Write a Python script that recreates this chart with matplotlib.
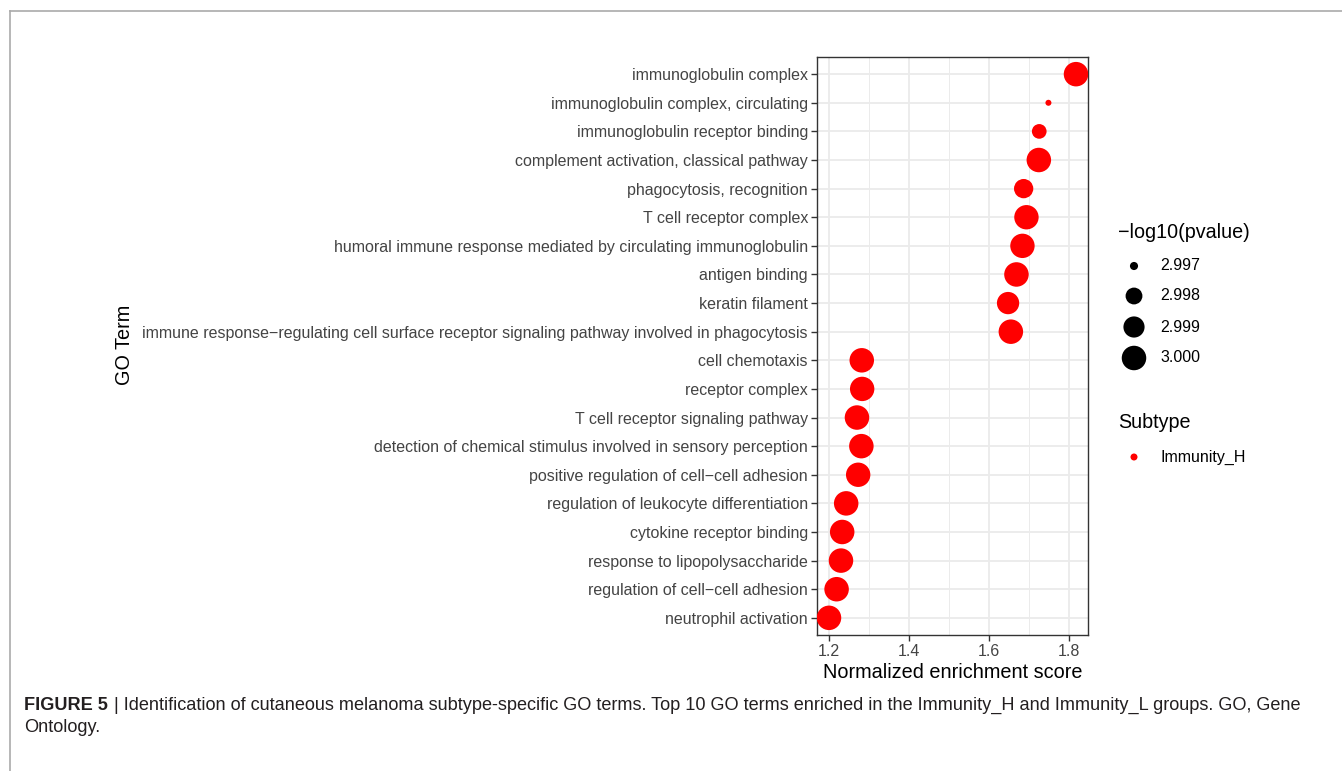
import matplotlib
matplotlib.use("Agg")
import matplotlib.pyplot as plt
import numpy as np

plt.rcParams['font.family'] = ['Liberation Sans', 'DejaVu Sans']

# GO terms, top to bottom
terms = [
    "immunoglobulin complex",
    "immunoglobulin complex, circulating",
    "immunoglobulin receptor binding",
    "complement activation, classical pathway",
    "phagocytosis, recognition",
    "T cell receptor complex",
    "humoral immune response mediated by circulating immunoglobulin",
    "antigen binding",
    "keratin filament",
    "immune response\u2212regulating cell surface receptor signaling pathway involved in phagocytosis",
    "cell chemotaxis",
    "receptor complex",
    "T cell receptor signaling pathway",
    "detection of chemical stimulus involved in sensory perception",
    "positive regulation of cell\u2212cell adhesion",
    "regulation of leukocyte differentiation",
    "cytokine receptor binding",
    "response to lipopolysaccharide",
    "regulation of cell\u2212cell adhesion",
    "neutrophil activation",
]
nes = [1.818, 1.749, 1.726, 1.725, 1.687, 1.694, 1.684, 1.669, 1.648, 1.655,
       1.282, 1.283, 1.270, 1.281, 1.273, 1.243, 1.233, 1.230, 1.219, 1.200]
neglogp = [3.0000, 2.99696, 2.99763, 3.0000, 2.99853, 2.99996, 2.99996, 3.0000, 2.99932, 3.0000,
           3.0000, 2.99996, 3.0000, 3.0000, 2.99996, 3.0000, 3.0000, 3.0000, 3.0000, 3.0000]
size_breaks = [2.997, 2.998, 2.999, 3.000]
subtype = "Immunity_H"
x_ticks = [1.2, 1.4, 1.6, 1.8]

W, H, DPI = 1342, 771, 100
fig = plt.figure(figsize=(W / DPI, H / DPI), dpi=DPI)

# size scale: diameter grows with sqrt of rescaled value
vmin, vmax = min(neglogp), max(neglogp)
d_lo, d_hi = 6.0, 24.5  # pixels


def diam_px(v):
    t = np.clip((np.asarray(v) - vmin) / (vmax - vmin), 0, 1)
    return d_lo + (d_hi - d_lo) * np.sqrt(t)


def area_pt2(v):
    return (diam_px(v) * 72.0 / DPI) ** 2


ax = fig.add_axes([817 / W, 1 - 635 / H, (1088 - 817) / W, (635 - 57) / H])
n = len(terms)
ypos = np.arange(n)[::-1]
ax.scatter(nes, ypos, s=area_pt2(neglogp), color="#FF0000", edgecolors="none", zorder=3)

ax.set_xlim(1.17, 1.848)
ax.set_ylim(-0.6, n - 1 + 0.6)
ax.set_xticks(x_ticks)
ax.set_xticklabels([f"{t:.1f}" for t in x_ticks])
ax.set_xticks([1.3, 1.5, 1.7], minor=True)
ax.set_yticks(ypos)
ax.set_yticklabels(terms)
ax.grid(True, which="major", color="#EBEBEB", linewidth=1.3, zorder=0)
ax.grid(True, which="minor", axis="x", color="#EBEBEB", linewidth=0.7, zorder=0)
ax.set_axisbelow(True)
for sp in ax.spines.values():
    sp.set_color("#333333")
    sp.set_linewidth(1.0)
ax.tick_params(axis="both", which="major", length=4, width=1.0, color="#333333",
               labelcolor="#444444", labelsize=11.5, pad=2.5)
ax.tick_params(axis="x", which="minor", length=0)
ax.set_xlabel("Normalized enrichment score", fontsize=14.3, color="black", labelpad=3)

fig.text(125 / W, 1 - 345 / H, "GO Term", rotation=90, ha="center", va="center",
         fontsize=14.3, color="black")

# legends, drawn in pixel coordinates
lg = fig.add_axes([0, 0, 1, 1], facecolor="none")
lg.set_xlim(0, W)
lg.set_ylim(H, 0)
lg.axis("off")
lg.text(1118, 232, "\u2212log10(pvalue)", ha="left", va="center", fontsize=14.2, color="black")
leg_y = [266, 296, 327, 358]
lg.scatter([1134] * len(size_breaks), leg_y, s=area_pt2(size_breaks),
           color="black", edgecolors="none")
for yy, b in zip(leg_y, size_breaks):
    lg.text(1160, yy, f"{b:.3f}", ha="left", va="center", fontsize=11.5, color="black")
lg.text(1118, 423, "Subtype", ha="left", va="center", fontsize=14.2, color="black")
lg.scatter([1134], [457], s=(7 * 0.72) ** 2, color="#FF0000", edgecolors="none")
lg.text(1160, 457, subtype, ha="left", va="center", fontsize=11.5, color="black")

# page frame
lg.plot([9.5, W], [10.5, 10.5], color="#AAAAAA", linewidth=1.2)
lg.plot([9.5, 9.5], [10.5, H], color="#AAAAAA", linewidth=1.2)

# caption
cap_col = "#231F20"
t1 = lg.text(24, 705, "FIGURE 5", ha="left", va="center", fontsize=13.1, fontweight="bold",
             color=cap_col)
fig.canvas.draw()
r = fig.canvas.get_renderer()
bb = t1.get_window_extent(r)
lg.text(bb.x1 + 1, 705,
        " | Identification of cutaneous melanoma subtype-specific GO terms. Top 10 GO terms enriched in the "
        "Immunity_H and Immunity_L groups. GO, Gene",
        ha="left", va="center", fontsize=13.1, color=cap_col)
lg.text(24, 728, "Ontology.", ha="left", va="center", fontsize=13.1, color=cap_col)

fig.savefig("out.png", dpi=DPI)
